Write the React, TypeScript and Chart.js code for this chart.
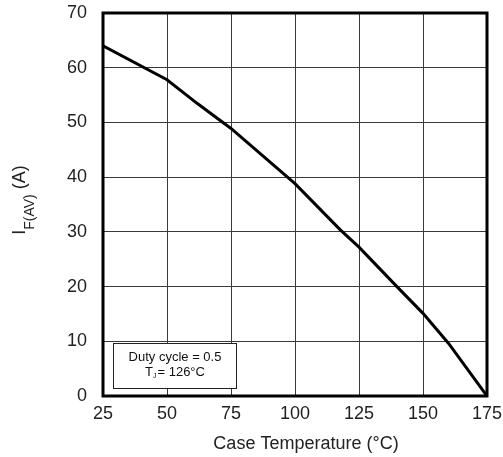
import React, { useEffect, useRef } from "react";
import { Chart, registerables } from "chart.js";

Chart.register(...registerables);

const caseTemperature = [25, 50, 62, 75, 100, 117.6, 125, 140, 150, 160, 175];
const forwardCurrent = [64, 57.8, 53.4, 48.9, 38.8, 30.4, 27.2, 19.9, 15.1, 9.6, 0];
const xTicks = [25, 50, 75, 100, 125, 150, 175];
const yTicks = [0, 10, 20, 30, 40, 50, 60, 70];
const noteLine1 = "Duty cycle = 0.5";
const noteLine2Main = "T";
const noteLine2Sub = "J";
const noteLine2Rest = "= 126°C";
const xTitle = "Case Temperature (°C)";
const yTitleMain = "I";
const yTitleSub = "F(AV)";
const yTitleRest = " (A)";

const FONT = "'Liberation Sans', Arial, Helvetica, sans-serif";

const overlayPlugin = {
  id: "overlay",
  afterDatasetsDraw(chart: any) {
    const { ctx, chartArea: a } = chart;
    ctx.save();
    // frame
    ctx.strokeStyle = "#000";
    ctx.lineWidth = 3;
    ctx.strokeRect(a.left, a.top, a.right - a.left, a.bottom - a.top);
    // note box
    const bx = a.left + 10.5;
    const by = a.bottom - 52.5;
    const bw = 123;
    const bh = 45;
    ctx.fillStyle = "#fff";
    ctx.fillRect(bx, by, bw, bh);
    ctx.lineWidth = 1;
    ctx.strokeStyle = "#222";
    ctx.strokeRect(bx, by, bw, bh);
    ctx.fillStyle = "#111";
    ctx.textBaseline = "alphabetic";
    ctx.textAlign = "left";
    ctx.font = `13px ${FONT}`;
    const cx = bx + bw / 2;
    const w1 = ctx.measureText(noteLine1).width;
    ctx.fillText(noteLine1, cx - w1 / 2, by + 17);
    const wT = ctx.measureText(noteLine2Main).width;
    ctx.font = `7px ${FONT}`;
    const wJ = ctx.measureText(noteLine2Sub).width;
    ctx.font = `13px ${FONT}`;
    const wR = ctx.measureText(noteLine2Rest).width;
    const total = wT + wJ + 1 + wR;
    let x = cx - total / 2;
    const y2 = by + 32;
    ctx.fillText(noteLine2Main, x, y2);
    x += wT;
    ctx.font = `7px ${FONT}`;
    ctx.fillText(noteLine2Sub, x, y2 + 2);
    x += wJ + 1;
    ctx.font = `13px ${FONT}`;
    ctx.fillText(noteLine2Rest, x, y2);
    ctx.restore();
  },
  afterDraw(chart: any) {
    const { ctx } = chart;
    ctx.save();
    ctx.fillStyle = "#222";
    // x title
    ctx.font = `18px ${FONT}`;
    ctx.textAlign = "center";
    ctx.textBaseline = "alphabetic";
    ctx.fillText(xTitle, 306, 449);
    // y title rotated
    ctx.translate(25, 200);
    ctx.rotate(-Math.PI / 2);
    ctx.textAlign = "left";
    ctx.font = `18px ${FONT}`;
    const wI = ctx.measureText(yTitleMain).width;
    const wRest = ctx.measureText(yTitleRest).width;
    ctx.font = `14px ${FONT}`;
    const wSub = ctx.measureText(yTitleSub).width;
    const tot = wI + wSub + wRest;
    let x = -tot / 2;
    ctx.font = `18px ${FONT}`;
    ctx.fillText(yTitleMain, x, 0);
    x += wI;
    ctx.font = `14px ${FONT}`;
    ctx.fillText(yTitleSub, x, 9);
    x += wSub;
    ctx.font = `18px ${FONT}`;
    ctx.fillText(yTitleRest, x, 0);
    ctx.restore();
  },
};

export default function App() {
  const ref = useRef<HTMLCanvasElement | null>(null);
  useEffect(() => {
    if (!ref.current) return;
    const chart = new Chart(ref.current, {
      type: "line",
      data: {
        datasets: [
          {
            data: caseTemperature.map((t, i) => ({ x: t, y: forwardCurrent[i] })),
            borderColor: "#000",
            borderWidth: 3,
            pointRadius: 0,
            tension: 0,
            fill: false,
          },
        ],
      },
      options: {
        animation: false,
        responsive: true,
        maintainAspectRatio: false,
        layout: { padding: { top: 13, right: 16, left: 0, bottom: 0 } },
        plugins: { legend: { display: false }, tooltip: { enabled: false } },
        scales: {
          x: {
            type: "linear",
            min: 25,
            max: 175,
            afterBuildTicks: (s: any) => {
              s.ticks = xTicks.map((v) => ({ value: v }));
            },
            afterFit: (s: any) => {
              s.height = 61;
              s.paddingLeft = 0;
              s.paddingRight = 0;
              s.paddingTop = 0;
              s.paddingBottom = 0;
            },
            grid: { color: "#3a3a3a", lineWidth: 1, drawTicks: false },
            border: { display: false },
            ticks: {
              padding: 7,
              color: "#222",
              font: { family: FONT, size: 18 },
              maxRotation: 0,
              autoSkip: false,
            },
          },
          y: {
            type: "linear",
            min: 0,
            max: 70,
            afterBuildTicks: (s: any) => {
              s.ticks = yTicks.map((v) => ({ value: v }));
            },
            afterFit: (s: any) => {
              s.width = 103;
              s.paddingLeft = 0;
              s.paddingRight = 0;
              s.paddingTop = 0;
              s.paddingBottom = 0;
            },
            grid: { color: "#3a3a3a", lineWidth: 1, drawTicks: false },
            border: { display: false },
            ticks: {
              padding: 16,
              color: "#222",
              font: { family: FONT, size: 18 },
              autoSkip: false,
            },
          },
        },
      },
      plugins: [overlayPlugin],
    });
    return () => chart.destroy();
  }, []);
  return (
    <div style={{ position: "fixed", left: 0, top: 0, width: 503, height: 457, background: "#fff" }}>
      <canvas ref={ref} />
    </div>
  );
}
